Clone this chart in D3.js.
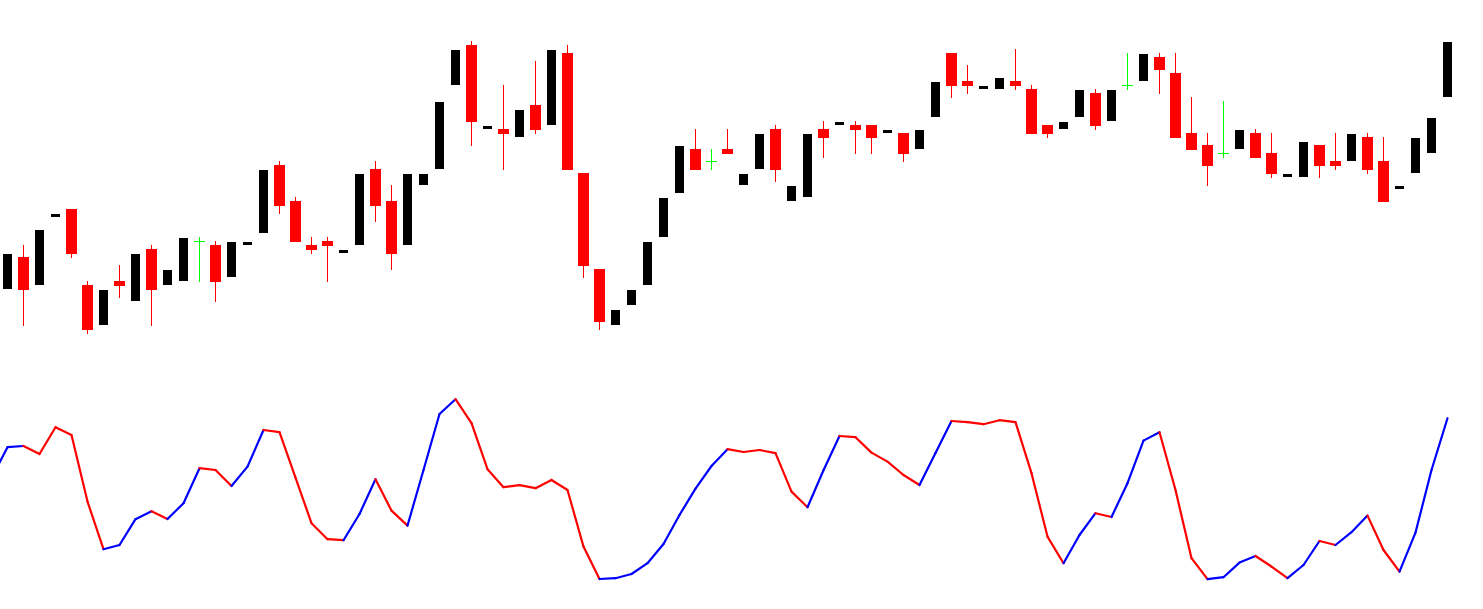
<!DOCTYPE html>
<html>
<head>
<meta charset="utf-8">
<script src="https://cdn.jsdelivr.net/npm/d3@7"></script>
<style>
  body { margin: 0; background: #fff; }
  svg { display: block; }
</style>
</head>
<body>
<svg width="1483" height="609"></svg>
<script>
// candle prices (arbitrary price units)
var open  = [111,143,115,183,191,115, 75,119, 99,151,115,119,159,155,123,155,167,235,199,155,
             159,147,155,231,199,155,215,231,315,355,271,271,263,295,275,347,227,131, 75, 95,
             115,163,207,251,239,251,215,231,271,199,203,271,275,275,275,267,267,251,283,347,
             319,311,311,319,311,275,271,283,307,279,315,319,343,327,267,255,247,251,267,247,
             223,223,255,239,239,263,239,211,227,247,303];
var high  = [146,155,170,186,191,119,110,135,146,155,130,162,163,159,158,158,230,239,203,163,
             163,150,226,239,215,226,226,298,350,359,274,315,290,339,350,355,227,131, 90,110,
             158,202,254,271,251,271,226,266,275,214,266,279,278,279,275,270,267,270,318,347,
             335,314,322,351,315,275,278,310,311,310,347,346,347,347,303,267,299,270,271,267,
             226,258,255,267,266,267,263,214,262,282,358];
var low   = [111, 74,115,183,142, 66, 75,102, 99, 74,115,119,118, 98,123,155,167,186,158,146,
             118,147,155,178,130,155,215,231,315,254,271,230,263,266,275,230,122, 70, 75, 95,
             115,163,207,230,230,246,215,231,218,199,203,242,275,246,246,267,238,251,283,302,
             306,311,311,310,266,262,271,283,270,279,310,319,306,262,250,214,242,251,242,222,
             223,223,222,230,239,226,198,211,227,247,303];
var close = [146,110,170,186,146, 70,110,114,146,110,130,162,159,118,158,158,230,194,158,150,
             154,150,226,194,146,226,226,298,350,278,274,266,290,270,350,230,134, 78, 90,110,
             158,202,254,230,239,246,226,266,230,214,266,262,278,270,262,270,246,270,318,314,
             314,314,322,314,266,266,278,310,274,310,315,346,330,262,250,234,247,270,242,226,
             226,258,234,234,266,230,198,214,262,282,358];

// oscillator, first value sits one bar before the first candle
var oscValues = [56,
  71.4,72,68,81.4,77.5,44.2,20.4,22.5,35.4,39.4,35.5,43.4,60.9,60,52,61.7,80,78.9,56.2,33.4,
  25.4,24.9,38,55.4,39.7,32.2,60,88,95.4,83.4,60.4,51.4,52.4,50.9,55,50,21.7,5.5,5.9,8,
  13.4,23,37.5,50.7,62,70.4,69,70,68.4,49.2,41.4,59.9,77,76.4,68.7,64.2,57.5,52.5,68.5,84.5,
  83.9,82.9,84.9,83.9,58.4,26.7,13.4,27.5,38.4,36.5,53.4,74.7,78.9,50,15.9,5.4,6.4,13.7,17,11.7,
  5.9,12.5,24.5,22.5,28.9,37.2,20,9.2,28.7,60,85.9];
// 1 = blue (up), -1 = red (down) for the segment ending at that point
var oscTrend = [1,
  1,1,-1,-1,-1,-1,-1,1,1,1,-1,1,1,-1,-1,1,1,-1,-1,-1,
  -1,-1,1,1,-1,-1,1,1,1,-1,-1,-1,-1,-1,-1,-1,-1,-1,1,1,
  1,1,1,1,1,1,-1,-1,-1,-1,-1,1,1,-1,-1,-1,-1,-1,1,1,
  -1,-1,-1,-1,-1,-1,-1,1,1,-1,1,1,1,-1,-1,-1,1,1,1,-1,
  -1,1,1,-1,1,1,-1,-1,1,1,1];

var svg = d3.select("svg"),
  width = +svg.attr("width"),
  height = +svg.attr("height");

var n = open.length;

var x = d3.scaleLinear()
  .domain([0, n - 1])
  .range([7.5, 7.5 + 16 * (n - 1)]);

var y = d3.scaleLinear()
  .domain([0, 400])
  .range([400, 0]);

var yOsc = d3.scaleLinear()
  .domain([0, 100])
  .range([590, 390]);

var candles = d3.range(n).map(function(i) {
  return { i: i, o: open[i], h: high[i], l: low[i], c: close[i] };
});

function kind(d) {
  if (d.c > d.o) return "up";
  if (d.c < d.o) return "down";
  return "doji";
}
var color = { up: "#000000", down: "#ff0000", doji: "#00ff00" };

var g = svg.append("g");

var candle = g.selectAll(".candle")
  .data(candles)
  .enter().append("g")
  .attr("class", "candle");

// wicks
candle.append("rect")
  .attr("x", function(d) { return x(d.i) - 0.5; })
  .attr("y", function(d) { return y(d.h); })
  .attr("width", 1)
  .attr("height", function(d) { return Math.max(0, y(d.l) - y(d.h)); })
  .attr("fill", function(d) { return color[kind(d)]; });

// bodies
candle.append("rect")
  .attr("x", function(d) {
    var k = kind(d);
    return x(d.i) - (k == "up" ? 4.5 : 5.5);
  })
  .attr("y", function(d) { return kind(d) == "doji" ? y(d.o) : y(Math.max(d.o, d.c)); })
  .attr("width", function(d) { return kind(d) == "up" ? 9 : 11; })
  .attr("height", function(d) {
    if (kind(d) == "doji") return 1;
    return Math.abs(y(d.o) - y(d.c));
  })
  .attr("fill", function(d) { return color[kind(d)]; });

// oscillator, one segment per bar so each can take its own colour
var oscPts = oscValues.map(function(v, k) { return { i: k - 1, v: v, t: oscTrend[k] }; });
var segs = d3.pairs(oscPts);

var line = d3.line()
  .x(function(d) { return x(d.i); })
  .y(function(d) { return yOsc(d.v); });

g.selectAll(".osc")
  .data(segs)
  .enter().append("path")
  .attr("class", "osc")
  .attr("d", line)
  .attr("fill", "none")
  .attr("stroke-width", 2.2)
  .attr("stroke-linecap", "round")
  .attr("stroke", function(d) { return d[1].t > 0 ? "#0000ff" : "#ff0000"; });
</script>
</body>
</html>
